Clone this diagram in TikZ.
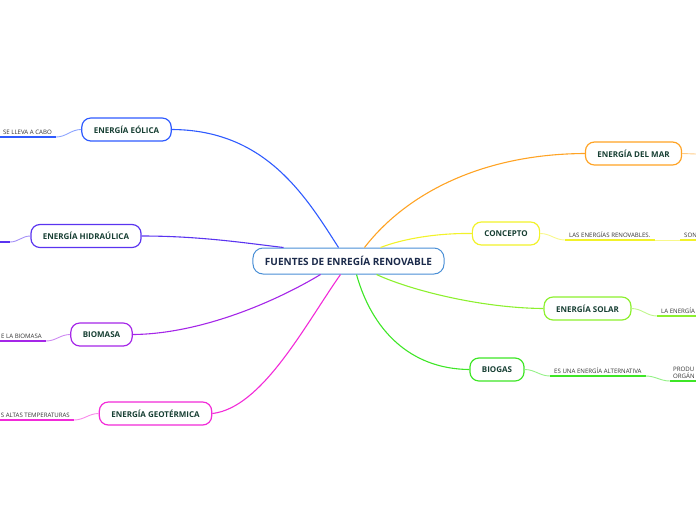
\documentclass[tikz,border=0pt]{standalone}
\usepackage{fontspec}
\setmainfont{Open Sans}
\usepackage{tikz}

\definecolor{cEol}{HTML}{2F5BFF}
\definecolor{cHid}{HTML}{5A34F0}
\definecolor{cBio}{HTML}{A526E8}
\definecolor{cGeo}{HTML}{F22AD8}
\definecolor{cMar}{HTML}{FFA324}
\definecolor{cCon}{HTML}{F2F22A}
\definecolor{cSol}{HTML}{8CF02E}
\definecolor{cBgs}{HTML}{3EE626}
\definecolor{cRoot}{HTML}{4A8FD6}
\definecolor{titlegreen}{HTML}{173F33}
\definecolor{rootnavy}{HTML}{1B2A4A}
\definecolor{subgray}{HTML}{333333}

\begin{document}
\begin{tikzpicture}[x=1pt,y=-1pt,
    topic/.style={draw=#1, line width=1.2pt, rounded corners=9pt, fill=white,
      minimum height=23pt, inner xsep=12pt, text=titlegreen,
      font=\fontsize{8}{9.5}\selectfont\bfseries},
    root/.style={draw=cRoot, line width=1pt, rounded corners=10pt, fill=white,
      minimum height=26pt, inner xsep=12pt, text=rootnavy,
      font=\fontsize{10}{12}\selectfont\bfseries},
    sub/.style={font=\fontsize{6.1}{7.4}\selectfont, text=subgray, inner xsep=4pt, inner ysep=2pt},
    link/.style={draw=#1, line width=1.1pt},
    twig/.style={draw=#1!55, line width=0.9pt},
    uline/.style={draw=#1, line width=2.2pt}]
    \useasboundingbox (0,0) rectangle (696,520);

    % main topics
    \node[root] (root) at (348.5,261) {FUENTES DE ENREGÍA RENOVABLE};
    \node[topic=cEol] (eol) at (126.5,129.5) {ENERGÍA EÓLICA};
    \node[topic=cHid] (hid) at (86,236) {ENERGÍA HIDRAÚLICA};
    \node[topic=cBio] (bio) at (101.5,334.5) {BIOMASA};
    \node[topic=cGeo] (geo) at (155.5,413.5) {ENERGÍA GEOTÉRMICA};
    \node[topic=cMar] (mar) at (633.5,153.5) {ENERGÍA DEL MAR};
    \node[topic=cCon] (con) at (506,233.5) {CONCEPTO};
    \node[topic=cSol] (sol) at (587.5,308.5) {ENERGÍA SOLAR};
    \node[topic=cBgs] (bgs) at (497,369.5) {BIOGAS};

    % where the links meet the root
    \coordinate (rEol) at ([xshift=-10pt]root.north);
    \coordinate (rHid) at ([xshift=-65pt]root.north);
    \coordinate (rMar) at ([xshift=16pt]root.north);
    \coordinate (rCon) at ([xshift=32pt]root.north);
    \coordinate (rBio) at ([xshift=-28pt]root.south);
    \coordinate (rGeo) at ([xshift=-8pt]root.south);
    \coordinate (rBgs) at ([xshift=8pt]root.south);
    \coordinate (rSol) at ([xshift=28pt]root.south);

    \draw[link=cEol] (eol.east) .. controls (265,130) and (305,195) .. (rEol);
    \draw[link=cHid] (hid.east) .. controls (200,236) and (245,243) .. (rHid);
    \draw[link=cBio] (bio.east) .. controls (200,334) and (275,302) .. (rBio);
    \draw[link=cGeo] (geo.east) .. controls (262,408) and (305,325) .. (rGeo);
    \draw[link=cMar] (rMar) .. controls (405,195) and (480,154) .. (mar.west);
    \draw[link=cCon] (rCon) .. controls (405,238) and (440,233) .. (con.west);
    \draw[link=cSol] (rSol) .. controls (410,290) and (480,308) .. (sol.west);
    \draw[link=cBgs] (rBgs) .. controls (372,330) and (410,369) .. (bgs.west);

    % left side texts
    \node[sub, anchor=south east] (eolT) at (56,137) {SE LLEVA A CABO};
    \coordinate (eolL) at (0,137);
    \draw[twig=cEol] (eol.west) to[out=180,in=0] (eolT.south east);
    \draw[uline=cEol] (eolL) -- (eolT.south east);

    \coordinate (hidE) at (10,242);
    \coordinate (hidL) at (0,242);
    \draw[twig=cHid] (hid.west) to[out=180,in=0] (hidE);
    \draw[uline=cHid] (hidL) -- (hidE);

    \node[sub, anchor=south east] (bioT) at (46,341) {E LA BIOMASA};
    \coordinate (bioL) at (0,341);
    \draw[twig=cBio] (bio.west) to[out=180,in=0] (bioT.south east);
    \draw[uline=cBio] (bioL) -- (bioT.south east);

    \node[sub, anchor=south east] (geoT) at (74,420) {S ALTAS TEMPERATURAS};
    \coordinate (geoL) at (0,420);
    \draw[twig=cGeo] (geo.west) to[out=180,in=0] (geoT.south east);
    \draw[uline=cGeo] (geoL) -- (geoT.south east);

    % right side texts
    \coordinate (marR) at (696,154);
    \draw[twig=cMar] (mar.east) -- (marR);

    \node[sub, anchor=south west] (conT) at (565,240) {LAS ENERGÍAS RENOVABLES.};
    \node[sub, anchor=south west] (conT2) at (680,240) {SON};
    \coordinate (conR) at (696,240);
    \draw[twig=cCon] (con.east) to[out=0,in=180] (conT.south west);
    \draw[uline=cCon] (conT.south west) -- (conT.south east);
    \draw[twig=cCon] (conT.south east) -- (conT2.south west);
    \draw[uline=cCon] (conT2.south west) -- (conR);

    \node[sub, anchor=south west] (solT) at (657,316) {LA ENERGÍA};
    \coordinate (solR) at (696,316);
    \draw[twig=cSol] (sol.east) to[out=0,in=180] (solT.south west);
    \draw[uline=cSol] (solT.south west) -- (solR);

    \node[sub, anchor=south west] (bgsT) at (550,376) {ES UNA ENERGÍA ALTERNATIVA};
    \node[sub, anchor=south west, align=left, inner xsep=3pt] (bgsT2) at (670,381) {PRODU\\ORGÁN};
    \coordinate (bgsR) at (696,381);
    \draw[twig=cBgs] (bgs.east) to[out=0,in=180] (bgsT.south west);
    \draw[uline=cBgs] (bgsT.south west) -- (bgsT.south east);
    \draw[twig=cBgs] (bgsT.south east) to[out=0,in=180] (bgsT2.south west);
    \draw[uline=cBgs] (bgsT2.south west) -- (bgsR);
\end{tikzpicture}
\end{document}
